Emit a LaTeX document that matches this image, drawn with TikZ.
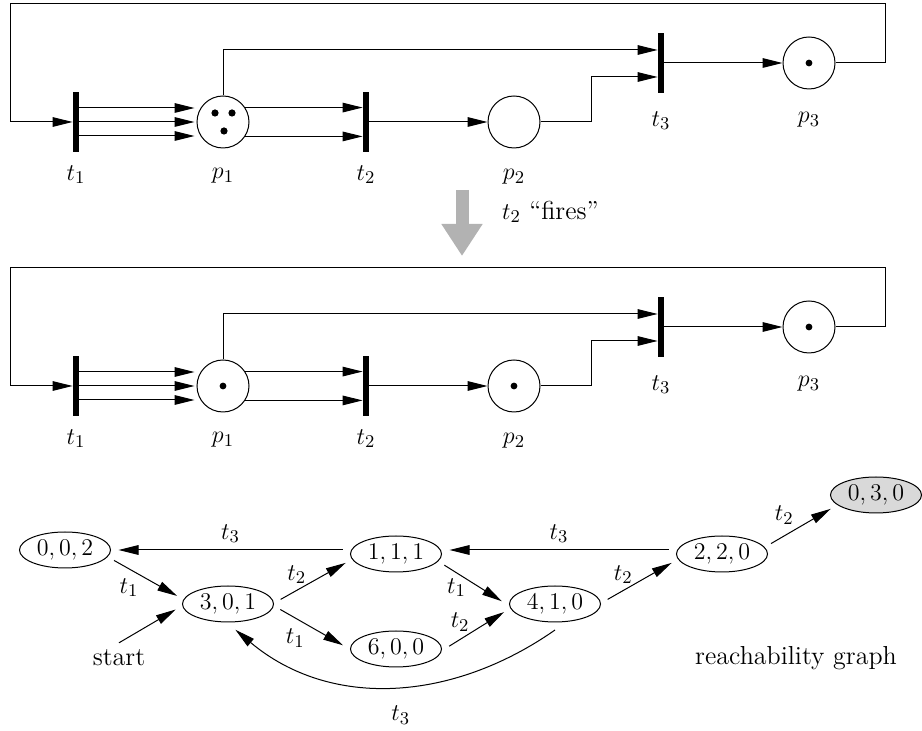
\documentclass[tikz,border=0pt]{standalone}
\usetikzlibrary{arrows.meta,positioning,shapes.geometric}

\begin{document}
\begin{tikzpicture}[
    x=0.5pt, y=-0.5pt,
    every node/.style={font=\fontsize{13}{15}\selectfont},
    trans/.style={fill=black, minimum width=3pt, minimum height=30pt, inner sep=0pt},
    place/.style={draw, circle, minimum size=26pt, inner sep=0pt, line width=0.5pt},
    state/.style={draw, ellipse, minimum width=45.5pt, minimum height=18pt, inner sep=0pt, outer sep=4pt, line width=0.5pt},
    arr/.style={-{Triangle[length=10pt, width=4.8pt]}, line width=0.5pt}
]
\useasboundingbox (0,0) rectangle (922,731);

% The net, once before and once after t2 fires
\foreach \n/\dy in {a/0, b/264} {
  \begin{scope}[shift={(0,\dy)}]
    \node[trans] (t1\n) at (76,122) {};
    \node[place] (p1\n) at (223,122) {};
    \node[trans] (t2\n) at (366,122) {};
    \node[place] (p2\n) at (514,122) {};
    \node[trans] (t3\n) at (661,63) {};
    \node[place] (p3\n) at (809,63) {};
    \coordinate (ne\n) at (885,4);
    \coordinate (nw\n) at (10,4);

    \node[below=3pt of t1\n] {$t_1$};
    \node[below=6.5pt of p1\n] {$p_1$};
    \node[below=3pt of t2\n] {$t_2$};
    \node[below=7pt of p2\n] {$p_2$};
    \node[below=5.5pt of t3\n] {$t_3$};
    \node[below=8pt of p3\n] {$p_3$};

    % feedback from p3 back to t1
    \draw[arr] (p3\n.east) -| (ne\n) -- (nw\n) |- (t1\n.west);
    \foreach \o in {-7,0,7}
      \draw[arr] ([yshift=\o pt]t1\n.east) -- ([xshift=-1pt, yshift=\o pt]p1\n.west);
    \foreach \a in {33,-33}
      \draw[arr] (p1\n.\a) -- (p1\n.\a -| t2\n.west);
    \draw[arr] (t2\n) -- (p2\n);
    \draw[arr] (p1\n.north) |- ([yshift=6.5pt]t3\n.west);
    \draw[arr] (p2\n.east) -- ++(51,0) |- ([yshift=-7pt]t3\n.west);
    \draw[arr] (t3\n) -- (p3\n);
  \end{scope}
}

% tokens
\fill ([shift={(-8,-9)}]p1a.center) circle (1.8pt);
\fill ([shift={(9,-9)}]p1a.center) circle (1.8pt);
\fill ([shift={(1,9)}]p1a.center) circle (1.8pt);
\fill (p3a.center) circle (1.7pt);
\fill (p1b.center) circle (1.7pt);
\fill (p2b.center) circle (1.7pt);
\fill (p3b.center) circle (1.7pt);

% firing step
\coordinate (fireA) at (462,190);
\coordinate (fireB) at (462,256);
\draw[line width=6.5pt, gray!60, -{Triangle[length=16pt, width=19.5pt]}] (fireA) -- (fireB);
\node[right] (fires) at (495,212) {$t_2$ ``fires''};

% Reachability graph
\node[state] (s002) at (65,550) {$0,0,2$};
\node[state] (s301) at (228,604) {$3,0,1$};
\node[state] (s111) at (396,554) {$1,1,1$};
\node[state] (s600) at (396,649) {$6,0,0$};
\node[state] (s410) at (555,604) {$4,1,0$};
\node[state] (s220) at (722,554) {$2,2,0$};
\node[state, fill=gray!30] (s030) at (876,495) {$0,3,0$};
\node (start) at (119,658) {start};
\node (rgraph) at (796,658) {reachability graph};

\draw[arr] ([yshift=2pt]s111.west) -- ([yshift=2pt]s111.west -| s002.east) node[midway, above] {$t_3$};
\draw[arr] ([yshift=2pt]s220.west) -- ([yshift=2pt]s111.east) node[midway, above] {$t_3$};
\draw[arr] (s002.-12) -- (s301.171) node[midway, left, yshift=-4.75pt] {$t_1$};
\draw[arr] (start.north) -- (s301.186);
\draw[arr] (s301.5) -- (s111.-170) node[midway, left, yshift=3.25pt] {$t_2$};
\draw[arr] (s301.-6) -- (s600.176) node[midway, left, yshift=-5.25pt] {$t_1$};
\draw[arr] (s111.-13) -- (s410.177) node[midway, left, yshift=-2.25pt] {$t_1$};
\draw[arr] (s600.3) -- (s410.-171) node[midway, left, yshift=3.5pt] {$t_2$};
\draw[arr] (s410.5) -- (s220.-170) node[midway, left, yshift=3.25pt] {$t_2$};
\draw[arr] (s220.12) -- (s030.-163) node[midway, left, yshift=5.5pt] {$t_2$};
\draw[arr] (s410.south) to[out=-145, in=-40] node[midway, below, xshift=4pt, yshift=-6pt] {$t_3$} (s301.-74);
\end{tikzpicture}
\end{document}
